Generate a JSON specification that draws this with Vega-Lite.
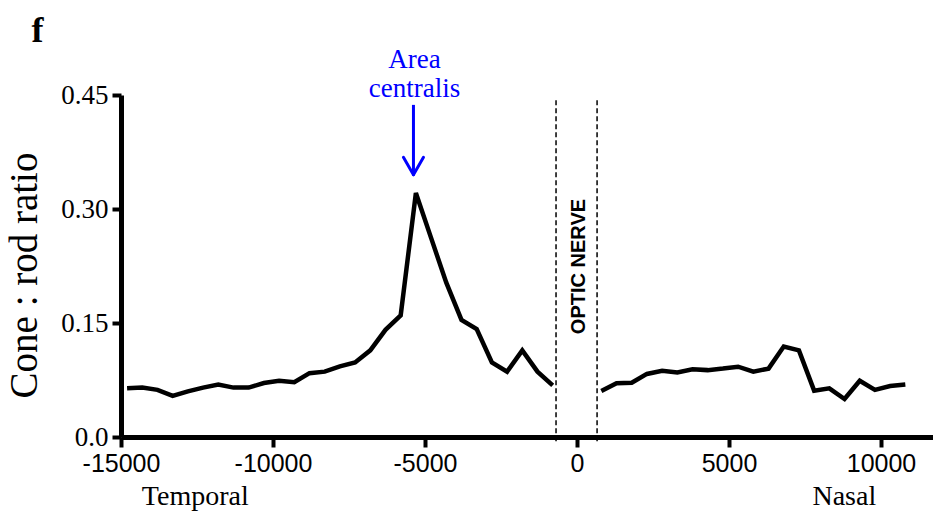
{
  "$schema": "https://vega.github.io/schema/vega-lite/v6.json",
  "width": 812,
  "height": 342,
  "autosize": "none",
  "padding": {"left": 121, "top": 95, "right": 0, "bottom": 76},
  "background": "white",
  "config": {"view": {"stroke": null}},
  "data": {"values": [{}]},
  "datasets": {
    "ratio": [
      {"pos": -14800, "ratio": 0.064, "side": "Temporal"},
      {"pos": -14300, "ratio": 0.065, "side": "Temporal"},
      {"pos": -13800, "ratio": 0.062, "side": "Temporal"},
      {"pos": -13300, "ratio": 0.054, "side": "Temporal"},
      {"pos": -12800, "ratio": 0.060, "side": "Temporal"},
      {"pos": -12300, "ratio": 0.065, "side": "Temporal"},
      {"pos": -11800, "ratio": 0.069, "side": "Temporal"},
      {"pos": -11300, "ratio": 0.065, "side": "Temporal"},
      {"pos": -10800, "ratio": 0.065, "side": "Temporal"},
      {"pos": -10300, "ratio": 0.071, "side": "Temporal"},
      {"pos": -9800, "ratio": 0.074, "side": "Temporal"},
      {"pos": -9300, "ratio": 0.072, "side": "Temporal"},
      {"pos": -8800, "ratio": 0.084, "side": "Temporal"},
      {"pos": -8300, "ratio": 0.086, "side": "Temporal"},
      {"pos": -7800, "ratio": 0.093, "side": "Temporal"},
      {"pos": -7300, "ratio": 0.098, "side": "Temporal"},
      {"pos": -6800, "ratio": 0.114, "side": "Temporal"},
      {"pos": -6300, "ratio": 0.141, "side": "Temporal"},
      {"pos": -5800, "ratio": 0.160, "side": "Temporal"},
      {"pos": -5300, "ratio": 0.321, "side": "Temporal"},
      {"pos": -4800, "ratio": 0.262, "side": "Temporal"},
      {"pos": -4300, "ratio": 0.203, "side": "Temporal"},
      {"pos": -3800, "ratio": 0.154, "side": "Temporal"},
      {"pos": -3300, "ratio": 0.142, "side": "Temporal"},
      {"pos": -2800, "ratio": 0.098, "side": "Temporal"},
      {"pos": -2300, "ratio": 0.086, "side": "Temporal"},
      {"pos": -1800, "ratio": 0.114, "side": "Temporal"},
      {"pos": -1300, "ratio": 0.086, "side": "Temporal"},
      {"pos": -800, "ratio": 0.068, "side": "Temporal"},
      {"pos": 800, "ratio": 0.0605, "side": "Nasal"},
      {"pos": 1300, "ratio": 0.0707, "side": "Nasal"},
      {"pos": 1800, "ratio": 0.0714, "side": "Nasal"},
      {"pos": 2300, "ratio": 0.083, "side": "Nasal"},
      {"pos": 2800, "ratio": 0.087, "side": "Nasal"},
      {"pos": 3300, "ratio": 0.085, "side": "Nasal"},
      {"pos": 3800, "ratio": 0.089, "side": "Nasal"},
      {"pos": 4300, "ratio": 0.088, "side": "Nasal"},
      {"pos": 4800, "ratio": 0.090, "side": "Nasal"},
      {"pos": 5300, "ratio": 0.0925, "side": "Nasal"},
      {"pos": 5800, "ratio": 0.086, "side": "Nasal"},
      {"pos": 6300, "ratio": 0.090, "side": "Nasal"},
      {"pos": 6800, "ratio": 0.119, "side": "Nasal"},
      {"pos": 7300, "ratio": 0.114, "side": "Nasal"},
      {"pos": 7800, "ratio": 0.061, "side": "Nasal"},
      {"pos": 8300, "ratio": 0.064, "side": "Nasal"},
      {"pos": 8800, "ratio": 0.050, "side": "Nasal"},
      {"pos": 9300, "ratio": 0.074, "side": "Nasal"},
      {"pos": 9800, "ratio": 0.062, "side": "Nasal"},
      {"pos": 10300, "ratio": 0.067, "side": "Nasal"},
      {"pos": 10800, "ratio": 0.069, "side": "Nasal"}
    ],
    "nerve": [
      {"edge": -690},
      {"edge": 660}
    ]
  },
  "layer": [
    {
      "data": {"name": "ratio"},
      "mark": {"type": "line", "color": "black", "strokeWidth": 4.5, "strokeJoin": "miter", "strokeCap": "butt", "clip": false},
      "encoding": {
        "x": {
          "field": "pos", "type": "quantitative",
          "scale": {"domain": [-15000, 11710], "nice": false, "zero": false},
          "axis": {
            "values": [-15000, -10000, -5000, 0, 5000, 10000],
            "labelExpr": "'' + datum.value",
            "title": null,
            "grid": false,
            "domainColor": "black", "domainWidth": 5,
            "tickColor": "black", "tickWidth": 4, "tickSize": 10,
            "labelFont": "Liberation Sans", "labelFontSize": 25, "labelColor": "black",
            "labelPadding": 4, "labelFlush": false, "labelOverlap": false
          }
        },
        "y": {
          "field": "ratio", "type": "quantitative",
          "scale": {"domain": [0, 0.45], "nice": false},
          "axis": {
            "values": [0, 0.15, 0.3, 0.45],
            "labelExpr": "datum.value == 0 ? '0.0' : format(datum.value, '.2f')",
            "title": "Cone : rod ratio",
            "titleFont": "Liberation Serif", "titleFontSize": 39, "titleFontWeight": "normal", "titleColor": "black",
            "titleX": -85, "titleY": 180, "titleBaseline": "alphabetic", "titleAngle": 270, "titleAlign": "center",
            "grid": false,
            "domainColor": "black", "domainWidth": 5,
            "tickColor": "black", "tickWidth": 4, "tickSize": 9,
            "labelFont": "Liberation Serif", "labelFontSize": 27, "labelColor": "black",
            "labelPadding": 4, "labelFlush": false, "labelOverlap": false
          }
        },
        "detail": {"field": "side", "type": "nominal"}
      }
    },
    {
      "data": {"name": "nerve"},
      "mark": {"type": "rule", "color": "black", "strokeWidth": 1.5, "strokeDash": [5, 3]},
      "encoding": {
        "x": {"field": "edge", "type": "quantitative"},
        "y": {"datum": 0.443},
        "y2": {"datum": -0.006}
      }
    },
    {
      "mark": {"type": "text", "text": "OPTIC NERVE", "font": "Liberation Sans", "fontWeight": "bold", "fontSize": 20, "angle": 270, "align": "center", "baseline": "middle", "color": "black"},
      "encoding": {"x": {"datum": 80}, "y": {"datum": 0.2243}}
    },
    {
      "mark": {"type": "text", "text": ["Area", "centralis"], "font": "Liberation Serif", "fontSize": 27, "lineHeight": 29, "align": "center", "baseline": "alphabetic", "color": "#0000FF"},
      "encoding": {"x": {"datum": -5345}, "y": {"datum": 0.4855}}
    },
    {
      "mark": {"type": "rule", "color": "#0000FF", "strokeWidth": 3},
      "encoding": {"x": {"datum": -5380}, "y": {"datum": 0.437}, "y2": {"datum": 0.347}}
    },
    {
      "mark": {"type": "rule", "color": "#0000FF", "strokeWidth": 3, "strokeCap": "round"},
      "encoding": {"x": {"datum": -5710}, "y": {"datum": 0.368}, "x2": {"datum": -5380}, "y2": {"datum": 0.345}}
    },
    {
      "mark": {"type": "rule", "color": "#0000FF", "strokeWidth": 3, "strokeCap": "round"},
      "encoding": {"x": {"datum": -5050}, "y": {"datum": 0.368}, "x2": {"datum": -5380}, "y2": {"datum": 0.345}}
    },
    {
      "mark": {"type": "text", "text": "Temporal", "font": "Liberation Serif", "fontSize": 28, "align": "center", "baseline": "alphabetic", "color": "black"},
      "encoding": {"x": {"datum": -12556}, "y": {"datum": -0.0895}}
    },
    {
      "mark": {"type": "text", "text": "Nasal", "font": "Liberation Serif", "fontSize": 28, "align": "center", "baseline": "alphabetic", "color": "black"},
      "encoding": {"x": {"datum": 8793}, "y": {"datum": -0.0895}}
    },
    {
      "mark": {"type": "text", "text": "f", "font": "Liberation Serif", "fontWeight": "bold", "fontSize": 36, "align": "center", "baseline": "alphabetic", "color": "black"},
      "encoding": {"x": {"datum": -17750}, "y": {"datum": 0.52}}
    }
  ]
}
